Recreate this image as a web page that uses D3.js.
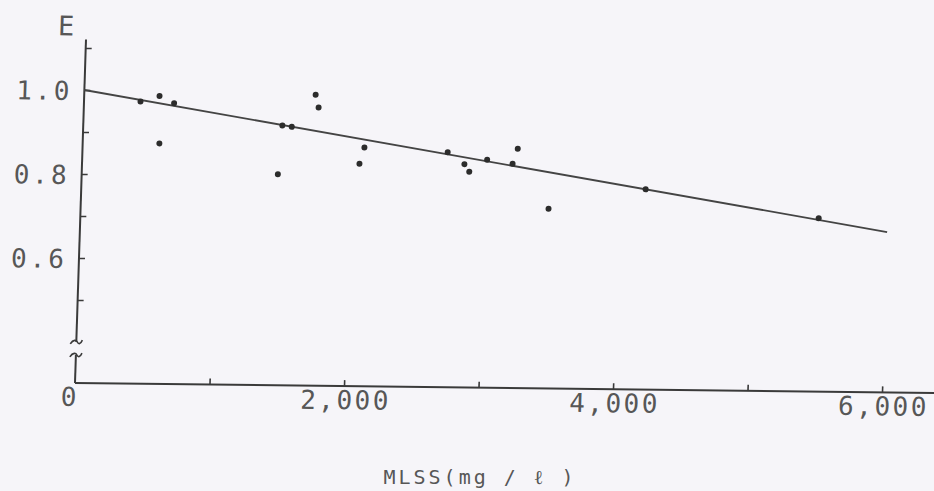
<!DOCTYPE html>
<html><head><meta charset="utf-8">
<script src="https://cdn.jsdelivr.net/npm/d3@7/dist/d3.min.js"></script>
<style>
html,body{margin:0;padding:0;background:#f6f5f9;}
svg{display:block;}
text{font-family:"DejaVu Sans Mono",monospace;fill:#575757;}
</style></head><body>
<script>
// ---- data ----
const mlss = [420, 560, 670, 570, 1480, 1550, 1720, 1745, 2095, 2062, 1458, 2715, 2842, 2880, 3010, 3200, 3235, 3478, 4195, 5488];
const effE = [0.974, 0.988, 0.971, 0.875, 0.921, 0.918, 0.995, 0.965, 0.871, 0.832, 0.805, 0.862, 0.834, 0.816, 0.845, 0.836, 0.872, 0.730, 0.779, 0.715];
const regX = [0, 6000];
const regY = [1.0, 0.684];
const xTickValues = [1000, 2000, 3000, 4000, 5000, 6000];
const xTickLabels = ["2,000", "4,000", "6,000"];
const xLabelValues = [2000, 4000, 6000];
const yTickValues = [0.5, 0.6, 0.7, 0.8, 0.9, 1.0, 1.1];
const yLabelValues = [0.6, 0.8, 1.0];
const yTickLabels = ["0.6", "0.8", "1.0"];

const W = 934, H = 491;
const svg = d3.select("body").append("svg").attr("width", W).attr("height", H);

// scan skew: plot drawn in local coords with origin at axis corner
const g = svg.append("g").attr("transform", "matrix(1,0.0116,-0.032,1,75,383)");

const x = d3.scaleLinear().domain([0, 6000]).range([0, 807]);
const y = d3.scaleLinear().domain([0.5, 1.0]).range([-83, -293]);

const ink = "#3a3a3a";

// x axis line
g.append("line").attr("x1", 0).attr("y1", 0).attr("x2", x(6400)).attr("y2", 0)
  .attr("stroke", ink).attr("stroke-width", 2);
// x ticks (pointing up)
const xAxis = d3.axisBottom(x).tickValues(xTickValues).tickSize(-6).tickFormat("");
const gx = g.append("g").call(xAxis);
gx.select(".domain").remove();
gx.selectAll(".tick line").attr("stroke", ink).attr("stroke-width", 1.6);

// x labels
g.selectAll("text.xl").data(xLabelValues).join("text").attr("class", "xl")
  .attr("x", d => x(d) + 2).attr("y", 23)
  .attr("text-anchor", "middle").attr("font-size", 26).attr("letter-spacing", 2.5)
  .text((d, i) => xTickLabels[i]);
g.append("text").attr("x", -6).attr("y", 23).attr("text-anchor", "middle")
  .attr("font-size", 26).text("0");

// y axis line with break
const yTop = y(1.12);
g.append("line").attr("x1", 0).attr("y1", 0).attr("x2", 0).attr("y2", -28)
  .attr("stroke", ink).attr("stroke-width", 2);
g.append("line").attr("x1", 0).attr("y1", -41).attr("x2", 0).attr("y2", yTop)
  .attr("stroke", ink).attr("stroke-width", 2);
// break squiggles
[-28, -41].forEach(yy => {
  g.append("path")
    .attr("d", `M-6,${yy + 2} C-3,${yy - 3} 0,${yy - 2} 1,${yy} S4,${yy + 3} 6,${yy - 2}`)
    .attr("fill", "none").attr("stroke", ink).attr("stroke-width", 1.6);
});

// y ticks (pointing right)
const yAxis = d3.axisLeft(y).tickValues(yTickValues).tickSize(-6).tickFormat("");
const gy = g.append("g").call(yAxis);
gy.select(".domain").remove();
gy.selectAll(".tick line").attr("stroke", ink).attr("stroke-width", 1.6);

// y labels
g.selectAll("text.yl").data(yLabelValues).join("text").attr("class", "yl")
  .attr("x", -12).attr("y", d => y(d) + 10)
  .attr("text-anchor", "end").attr("font-size", 26).attr("letter-spacing", 3)
  .text((d, i) => yTickLabels[i]);

// axis title E
g.append("text").attr("x", -12).attr("y", yTop - 4).attr("text-anchor", "end")
  .attr("font-size", 27).attr("font-family", "DejaVu Sans Condensed").text("E");

// regression line
g.append("line")
  .attr("x1", x(regX[0])).attr("y1", y(regY[0]))
  .attr("x2", x(regX[1])).attr("y2", y(regY[1]))
  .attr("stroke", "#444").attr("stroke-width", 1.8);

// points
g.selectAll("circle.pt").data(mlss).join("circle").attr("class", "pt")
  .attr("cx", d => x(d)).attr("cy", (d, i) => y(effE[i]))
  .attr("r", 3).attr("fill", "#2c2c2c");

// x title
svg.append("text").attr("x", 480).attr("y", 484).attr("text-anchor", "middle")
  .attr("font-size", 20).attr("letter-spacing", 3).attr("font-family", "DejaVu Sans Mono")
  .text("MLSS(mg / ℓ )");
</script>
</body></html>
